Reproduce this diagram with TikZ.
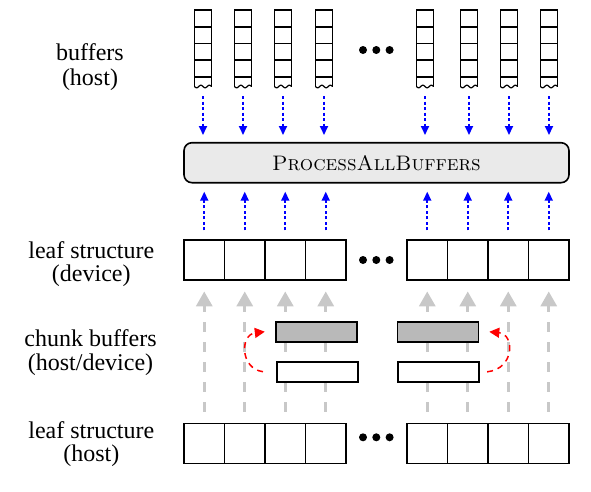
\documentclass[tikz,border=0pt]{standalone}
\usepackage{fontspec}
\newfontfamily\timesfont{Liberation Serif}
\usetikzlibrary{arrows.meta}
\definecolor{chunkgray}{RGB}{185,185,185}
\definecolor{arrgray}{RGB}{200,200,200}
\definecolor{pabfill}{RGB}{234,234,234}
\begin{document}
\begin{tikzpicture}[x=1pt,y=-1pt,
  cell/.style={draw, line width=1.6pt, minimum width=40.5pt, minimum height=40pt, inner sep=0pt},
  chunkw/.style={draw, line width=1.6pt, fill=white, minimum width=81pt, minimum height=20pt, inner sep=0pt},
  chunkg/.style={chunkw, fill=chunkgray},
  lbl/.style={font=\timesfont\fontsize{24}{28}\selectfont, anchor=base, inner sep=0pt},
  bufline/.style={line width=1.6pt},
  bluearr/.style={blue, line width=1.8pt, dash pattern=on 3pt off 2.5pt, -{Triangle[width=8pt,length=9pt]}},
  grayarr/.style={arrgray, line width=3.3pt, dash pattern=on 10pt off 10pt, -{Triangle[width=16pt,length=15pt]}},
  redarr/.style={red, line width=1.5pt, dash pattern=on 6pt off 5pt, -{Triangle[width=10pt,length=10pt]}},
  dot/.style={circle, fill=black, inner sep=0pt, minimum size=8pt}
]
\useasboundingbox (0,0) rectangle (591,491);

% buffers (host)
\foreach \bx [count=\i] in {203,243,283,324,425,469,509,549} {
  \draw[bufline] (\bx-8.5,87) -- (\bx-8.5,10) -- (\bx+8.5,10) -- (\bx+8.5,87);
  \foreach \yy in {26.7,43.3,60,76.7}
    \draw[bufline] (\bx-8.5,\yy) -- (\bx+8.5,\yy);
  \draw[line width=1.2pt] plot[domain=-8.5:8.5, samples=25, smooth] ({\bx+\x}, {86.5+1.3*sin(\x*360/8.5)});
  \coordinate (buf\i) at (\bx,88);
}
\node[dot] (td1) at (363,50) {};
\node[dot] (td2) at (376.3,50) {};
\node[dot] (td3) at (389.6,50) {};

% ProcessAllBuffers
\node[draw, line width=1.6pt, rounded corners=8pt, fill=pabfill, minimum width=385pt, minimum height=40pt, inner sep=0pt, font=\fontsize{21}{24}\selectfont] (pab) at (376.5,162.7) {\textsc{ProcessAllBuffers}};

% leaf structures
\foreach \cx [count=\i] in {204.25,244.75,285.25,325.75,427.25,467.75,508.25,548.75} {
  \node[cell] (d\i) at (\cx,259.7) {};
  \node[cell] (h\i) at (\cx,443.3) {};
}
\node[dot] (md1) at (363,260) {};
\node[dot] (md2) at (376.3,260) {};
\node[dot] (md3) at (389.6,260) {};
\node[dot] (bd1) at (363,437.3) {};
\node[dot] (bd2) at (376.3,437.3) {};
\node[dot] (bd3) at (389.6,437.3) {};

% arrows
\foreach \i in {1,...,8} {
  \draw[grayarr, shorten <=10.8pt, shorten >=10.9pt] (h\i.north) -- (d\i.south);
  \draw[bluearr, shorten <=8.5pt, shorten >=8.2pt] (d\i.north) -- (d\i.north |- pab.south);
  \draw[bluearr, shorten <=8pt, shorten >=6.9pt] (buf\i) -- (buf\i |- pab.north);
}

% chunk buffers
\node[chunkg] (g1) at (316.3,331.7) {};
\node[chunkw] (w1) at (317.2,371.7) {};
\node[chunkg] (g2) at (437.8,331.8) {};
\node[chunkw] (w2) at (438.3,371.8) {};

\draw[redarr] ([xshift=-12.9pt]w1.west) .. controls +(-23,-3) and +(-25,3) .. ([xshift=-10.2pt]g1.west);
\draw[redarr] ([xshift=7.5pt]w2.east) .. controls +(27.7,-2.7) and +(25.7,2.3) .. ([xshift=10.2pt]g2.east);

% labels
\node[lbl] (l1a) at (90,60.7) {buffers};
\node[lbl] (l1b) at (90,85) {(host)};
\node[lbl] (l2a) at (91.3,258.3) {leaf structure};
\node[lbl] (l2b) at (91.3,281.7) {(device)};
\node[lbl] (l3a) at (90.5,346.7) {chunk buffers};
\node[lbl] (l3b) at (90.5,370.5) {(host/device)};
\node[lbl] (l4a) at (91.3,438.3) {leaf structure};
\node[lbl] (l4b) at (91.3,461.7) {(host)};
\end{tikzpicture}
\end{document}
